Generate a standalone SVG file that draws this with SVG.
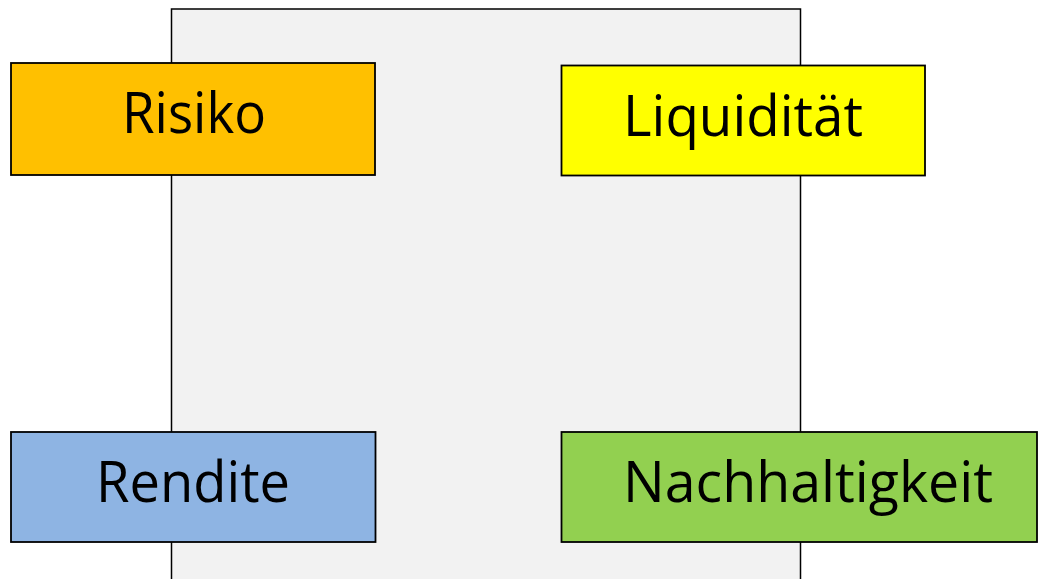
<svg xmlns="http://www.w3.org/2000/svg" width="1038" height="579" viewBox="0 0 1038 579">
<style>
.box{stroke:#000;stroke-width:1.8}
.lbl{font-family:"Open Sans","Liberation Sans",sans-serif;font-size:57px;fill:#000;text-anchor:middle}
</style>
<rect x="0" y="0" width="1038" height="579" fill="#fff"/>
<g id="background">
<rect x="171.5" y="9" width="629" height="580" fill="#F2F2F2" stroke="#000" stroke-width="1.5"/>
</g>
<g id="connectors"></g>
<g id="risiko">
<rect class="box" x="11" y="63" width="364" height="112" fill="#FFC000"/>
<text class="lbl" x="194" y="133" textLength="144" lengthAdjust="spacingAndGlyphs">Risiko</text>
</g>
<g id="liquiditaet">
<rect class="box" x="561.5" y="65.5" width="363.5" height="110" fill="#FFFF00"/>
<text class="lbl" x="743" y="136" textLength="240" lengthAdjust="spacingAndGlyphs">Liquidität</text>
</g>
<g id="rendite">
<rect class="box" x="11" y="432" width="364.5" height="110" fill="#8EB4E3"/>
<text class="lbl" x="193" y="502" textLength="194" lengthAdjust="spacingAndGlyphs">Rendite</text>
</g>
<g id="nachhaltigkeit">
<rect class="box" x="561.5" y="432" width="475.5" height="110" fill="#92D050"/>
<text class="lbl" x="808" y="502" textLength="370" lengthAdjust="spacingAndGlyphs">Nachhaltigkeit</text>
</g>
</svg>
